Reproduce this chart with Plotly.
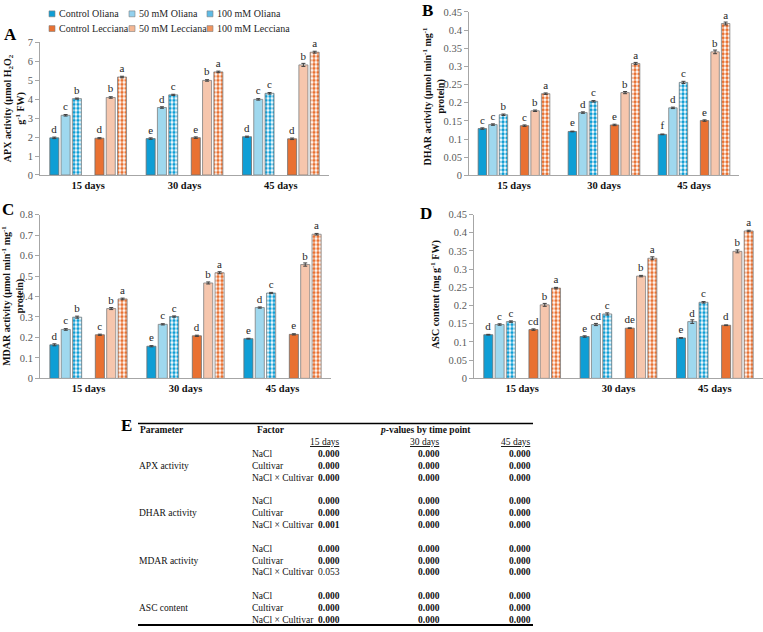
import plotly.graph_objects as go

W, H = 763, 632
SERIF = "Liberation Serif, Times New Roman, Tinos, serif"

days = ["15 days", "30 days", "45 days"]
series_names = ["Control Oliana", "50 mM Oliana", "100 mM Oliana",
                "Control Lecciana", "50 mM Lecciana", "100 mM Lecciana"]

# ---- data (rows follow series_names, columns follow days) ----
apx_values = [
    [1.96, 1.92, 2.02],
    [3.15, 3.56, 3.99],
    [4.03, 4.23, 4.31],
    [1.94, 1.97, 1.91],
    [4.09, 4.99, 5.81],
    [5.17, 5.44, 6.48],
]
apx_errors = [
    [0.04, 0.04, 0.03],
    [0.04, 0.04, 0.04],
    [0.03, 0.03, 0.04],
    [0.03, 0.04, 0.04],
    [0.04, 0.04, 0.08],
    [0.04, 0.04, 0.05],
]
apx_letters = [["d", "e", "d"], ["c", "d", "c"], ["b", "c", "c"],
               ["d", "e", "d"], ["b", "b", "b"], ["a", "a", "a"]]

dhar_values = [
    [0.129, 0.121, 0.113],
    [0.140, 0.173, 0.186],
    [0.167, 0.204, 0.256],
    [0.137, 0.139, 0.151],
    [0.178, 0.228, 0.340],
    [0.225, 0.308, 0.418],
]
dhar_errors = [
    [0.002, 0.001, 0.001],
    [0.002, 0.002, 0.002],
    [0.002, 0.002, 0.003],
    [0.002, 0.002, 0.002],
    [0.002, 0.003, 0.005],
    [0.002, 0.003, 0.004],
]
dhar_letters = [["c", "e", "f"], ["c", "d", "d"], ["b", "c", "c"],
                ["c", "e", "e"], ["b", "b", "b"], ["a", "a", "a"]]

mdar_values = [
    [0.164, 0.157, 0.194],
    [0.239, 0.264, 0.346],
    [0.299, 0.302, 0.417],
    [0.213, 0.208, 0.215],
    [0.341, 0.466, 0.556],
    [0.388, 0.516, 0.704],
]
mdar_errors = [
    [0.005, 0.003, 0.002],
    [0.004, 0.003, 0.003],
    [0.005, 0.003, 0.003],
    [0.003, 0.003, 0.003],
    [0.005, 0.005, 0.008],
    [0.004, 0.005, 0.004],
]
mdar_letters = [["d", "e", "e"], ["c", "c", "d"], ["b", "c", "c"],
                ["c", "d", "e"], ["b", "b", "b"], ["a", "a", "a"]]

asc_values = [
    [0.120, 0.115, 0.111],
    [0.148, 0.148, 0.156],
    [0.156, 0.177, 0.209],
    [0.134, 0.138, 0.146],
    [0.202, 0.281, 0.349],
    [0.248, 0.330, 0.405],
]
asc_errors = [
    [0.001, 0.002, 0.001],
    [0.002, 0.003, 0.005],
    [0.002, 0.003, 0.002],
    [0.002, 0.001, 0.001],
    [0.004, 0.002, 0.004],
    [0.002, 0.004, 0.002],
]
asc_letters = [["d", "e", "e"], ["c", "cd", "d"], ["c", "c", "c"],
               ["cd", "de", "d"], ["b", "b", "b"], ["a", "a", "a"]]

# ---- table data ----
table_parameters = ["APX activity", "DHAR activity", "MDAR activity", "ASC content"]
table_factors = ["NaCl", "Cultivar", "NaCl × Cultivar"]
table_days = ["15 days", "30 days", "45 days"]
p_15 = ["0.000", "0.000", "0.000", "0.000", "0.000", "0.001",
        "0.000", "0.000", "0.053", "0.000", "0.000", "0.000"]
p_30 = ["0.000"] * 12
p_45 = ["0.000"] * 12
p_significant = [p != "0.053" for p in p_15]

# ---- styles ----
BLUE = "#0F9ED5"
ORANGE = "#E97132"
AXIS_GREY = "#a6a6a6"


def style_for(i):
    base = BLUE if i < 3 else ORANGE
    kind = i % 3
    if kind == 0:
        return dict(color=base, line=dict(color="#6f6f6f", width=0.8))
    if kind == 1:
        return dict(color="white", line=dict(color="#7f7f7f", width=0.8),
                    pattern=dict(shape=".", fgcolor=base, bgcolor="white",
                                 size=2, solidity=0.45, fillmode="replace"))
    return dict(color="white", line=dict(color="#7f7f7f", width=0.8),
                pattern=dict(shape=".", fgcolor=base, bgcolor="white",
                             size=4, solidity=0.55, fillmode="replace"))


def X(px):
    return px / W


def Y(py):
    return 1 - py / H


fig = go.Figure()

panels = [
    ("x", "y", apx_values, apx_errors, apx_letters),
    ("x2", "y2", dhar_values, dhar_errors, dhar_letters),
    ("x3", "y3", mdar_values, mdar_errors, mdar_letters),
    ("x4", "y4", asc_values, asc_errors, asc_letters),
]

for xa, ya, vals, errs, lets in panels:
    for i in range(6):
        if i == 3:
            # empty slot between the two cultivars
            fig.add_trace(go.Bar(x=days, y=[0, 0, 0], xaxis=xa, yaxis=ya,
                                 marker=dict(color="rgba(0,0,0,0)", line=dict(width=0)),
                                 showlegend=False, hoverinfo="skip"))
        fig.add_trace(go.Bar(
            x=days, y=vals[i], xaxis=xa, yaxis=ya, name=series_names[i],
            marker=style_for(i), showlegend=False,
            error_y=dict(type="data", array=errs[i], color="#404040",
                         thickness=1, width=2),
            text=lets[i], textposition="outside", cliponaxis=False,
            constraintext="none",
            textfont=dict(family=SERIF, size=11, color="#262626"),
        ))

yaxis_common = dict(showline=True, linecolor=AXIS_GREY, linewidth=1,
                    ticks="outside", ticklen=4, tickcolor=AXIS_GREY,
                    showgrid=False, zeroline=False,
                    tickfont=dict(family=SERIF, size=10.5, color="#595959"))
xaxis_common = dict(showline=True, linecolor=AXIS_GREY, linewidth=1,
                    ticks="", showgrid=False, zeroline=False,
                    tickfont=dict(family=SERIF, size=10.5, color="#111111", weight="bold"))

fig.update_layout(
    width=W, height=H,
    margin=dict(l=0, r=0, t=0, b=0),
    paper_bgcolor="white", plot_bgcolor="white",
    barmode="group", bargap=0.18, bargroupgap=0.2,
    showlegend=False,
    font=dict(family=SERIF),
    xaxis=dict(domain=[X(40), X(329)], anchor="y", **xaxis_common),
    yaxis=dict(domain=[Y(173), Y(38)], anchor="x", range=[0, 7], dtick=1, **yaxis_common),
    xaxis2=dict(domain=[X(469), X(739)], anchor="y2", **xaxis_common),
    yaxis2=dict(domain=[Y(173.5), Y(7)], anchor="x2", range=[0, 0.45], dtick=0.05, **yaxis_common),
    xaxis3=dict(domain=[X(40), X(331)], anchor="y3", **xaxis_common),
    yaxis3=dict(domain=[Y(380), Y(213.3)], anchor="x3", range=[0, 0.8], dtick=0.1, **yaxis_common),
    xaxis4=dict(domain=[X(474), X(763)], anchor="y4", **xaxis_common),
    yaxis4=dict(domain=[Y(380), Y(213.3)], anchor="x4", range=[0, 0.45], dtick=0.05, **yaxis_common),
)

annotations = []
shapes = []


def text(x, y, s, size=10.5, xanchor="left", yanchor="middle", angle=0, color="#111111",
         bold=False):
    annotations.append(dict(
        x=X(x), y=Y(y), xref="paper", yref="paper", text=s, showarrow=False,
        xanchor=xanchor, yanchor=yanchor, textangle=angle,
        font=dict(family=SERIF, size=size, color=color, weight="bold" if bold else "normal"),
    ))


# panel letters
for lab, px, py in [("A", 10, 30), ("B", 427, 6), ("C", 8, 208), ("D", 426, 212), ("E", 126, 428)]:
    text(px, py, lab, size=17, xanchor="center", bold=True, color="black")

# y-axis titles
text(14, 105, "APX activity (µmol H<sub>2</sub>O<sub>2</sub><br>g<sup>-1</sup> FW)",
     size=10, xanchor="center", angle=-90, bold=True)
text(434, 93, "DHAR activity (µmol min<sup>-1</sup> mg<sup>-1</sup><br>protein)",
     size=10, xanchor="center", angle=-90, bold=True)
text(13, 296, "MDAR activity (µmol min<sup>-1</sup> mg<sup>-1</sup><br>protein)",
     size=10, xanchor="center", angle=-90, bold=True)
text(436, 295, "ASC content (mg g<sup>-1</sup> FW)",
     size=10, xanchor="center", angle=-90, bold=True)

# custom legend
legend_swatch = {0: BLUE, 1: "#93d1ee", 2: "#5fbbe5",
                 3: ORANGE, 4: "#f5b793", 5: "#f1955f"}
legend_pos = [(57, 9), (137, 9), (215, 9), (57, 24), (137, 24), (215, 24)]
for i, (tx, ty) in enumerate(legend_pos):
    shapes.append(dict(type="rect", xref="paper", yref="paper",
                       x0=X(tx - 8), x1=X(tx - 2), y0=Y(ty + 3), y1=Y(ty - 3),
                       fillcolor=legend_swatch[i], line=dict(color="#7f7f7f", width=0.6)))
    text(tx, ty, series_names[i], size=10, color="#262626")

# table
shapes.append(dict(type="line", xref="paper", yref="paper", x0=X(138), x1=X(533),
                   y0=Y(426), y1=Y(426), line=dict(color="black", width=1.5)))
shapes.append(dict(type="line", xref="paper", yref="paper", x0=X(138), x1=X(533),
                   y0=Y(631), y1=Y(631), line=dict(color="black", width=2)))
text(138, 433, "Parameter", size=9.5, bold=True)
text(255, 433, "Factor", size=9.5, bold=True)
text(425, 433, "<i>p</i>-values by time point", size=9.5, bold=True, xanchor="center")
col_right = [342, 442, 533]
for cx, d in zip(col_right, table_days):
    text(cx, 445, "<u>" + d + "</u>", size=9.5, xanchor="right")

row_y = [[456.7, 469, 481.3], [505, 517.3, 529.3], [553.3, 565.7, 577.3], [601.7, 613.7, 625.7]]
for g, param in enumerate(table_parameters):
    text(137, row_y[g][1], param, size=9.5)
    for r, fac in enumerate(table_factors):
        k = g * 3 + r
        ry = row_y[g][r]
        text(250, ry, fac, size=9.5)
        for cx, col in zip(col_right, [p_15, p_30, p_45]):
            sig = col is not p_15 or p_significant[k]
            text(cx, ry, col[k], size=9.5, xanchor="right", bold=sig)

fig.update_layout(annotations=annotations, shapes=shapes)
fig.write_html("out.html")
